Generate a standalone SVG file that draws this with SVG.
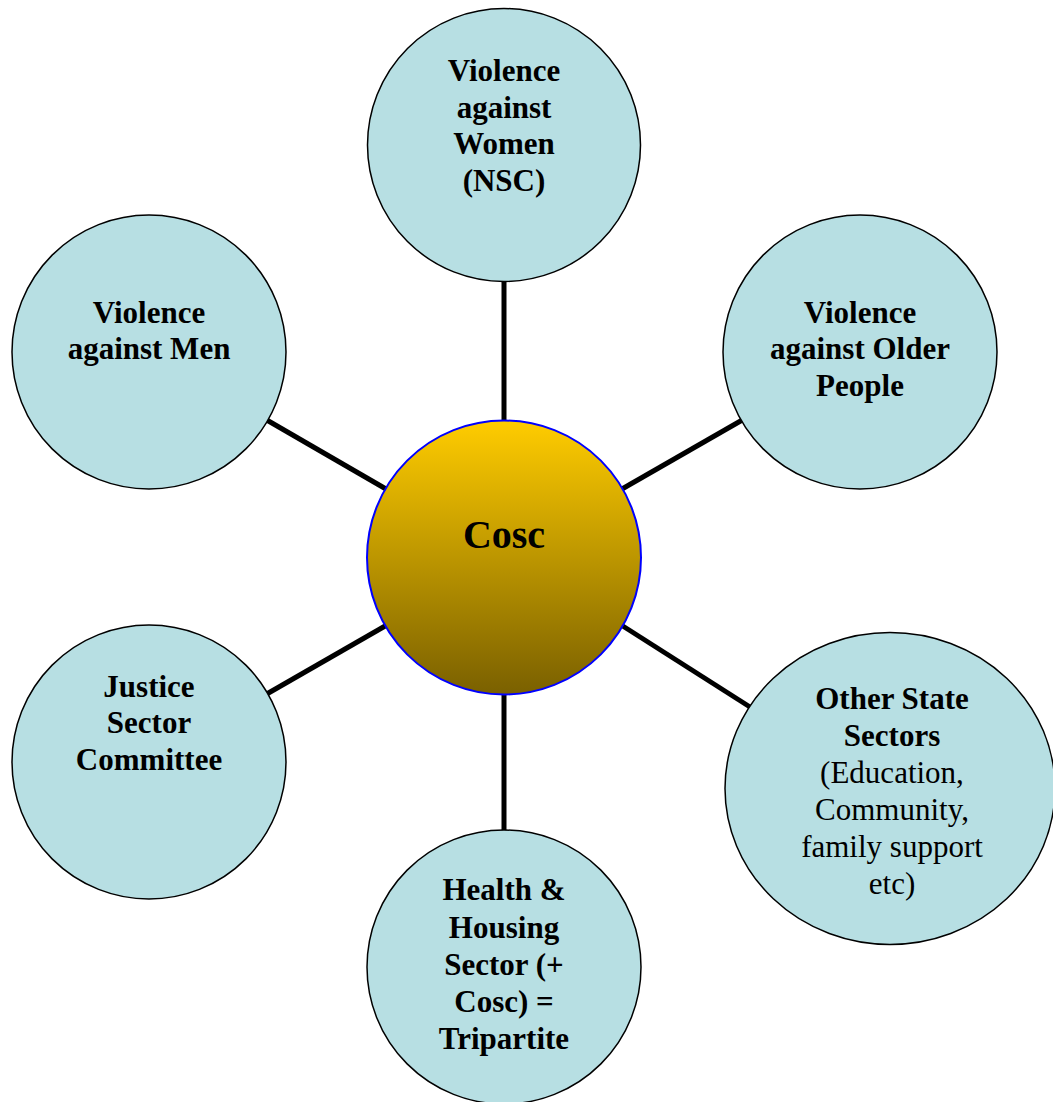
<svg xmlns="http://www.w3.org/2000/svg" width="1053" height="1102" viewBox="0 0 1053 1102">
<defs>
<linearGradient id="gold" x1="0" y1="0" x2="0" y2="1">
<stop offset="0" stop-color="#FFCC00"/>
<stop offset="1" stop-color="#7A6000"/>
</linearGradient>
<style>
.node{fill:#B7DFE3;stroke:#000;stroke-width:1.5}
.hub{fill:url(#gold);stroke:#0000FF;stroke-width:2}
.conn line{stroke:#000;stroke-width:5}
text{font-family:"Liberation Serif","Times New Roman",serif;font-size:31px;fill:#000;text-anchor:middle}
.b{font-weight:bold}
</style>
</defs>
<rect width="1053" height="1102" fill="#fff"/>
<g id="connectors" class="conn">
<line x1="504" y1="280" x2="504" y2="421"/>
<line x1="504" y1="694" x2="504" y2="831"/>
<line x1="267.6" y1="420.5" x2="386" y2="489"/>
<line x1="741.4" y1="420.5" x2="622" y2="489"/>
<line x1="267.6" y1="693.5" x2="386" y2="625.5"/>
<line x1="750" y1="707" x2="622" y2="625.5"/>
</g>
<g id="hub">
<circle class="hub" cx="504" cy="557.5" r="137"/>
<text class="b" x="504" y="548" style="font-size:40px">Cosc</text>
</g>
<g id="vaw">
<circle class="node" cx="504" cy="145" r="136.5"/>
<text class="b" x="504" y="81">Violence</text>
<text class="b" x="504" y="118">against</text>
<text class="b" x="504" y="154">Women</text>
<text class="b" x="504" y="191">(NSC)</text>
</g>
<g id="vam">
<circle class="node" cx="149" cy="352" r="137"/>
<text class="b" x="149" y="323">Violence</text>
<text class="b" x="149" y="359">against Men</text>
</g>
<g id="vaop">
<circle class="node" cx="860" cy="352" r="137"/>
<text class="b" x="860" y="323">Violence</text>
<text class="b" x="860" y="359">against Older</text>
<text class="b" x="860" y="396">People</text>
</g>
<g id="justice">
<circle class="node" cx="149" cy="762" r="137"/>
<text class="b" x="149" y="697">Justice</text>
<text class="b" x="149" y="733">Sector</text>
<text class="b" x="149" y="770">Committee</text>
</g>
<g id="health">
<circle class="node" cx="504" cy="967" r="137"/>
<text class="b" x="504" y="900">Health &amp;</text>
<text class="b" x="504" y="938">Housing</text>
<text class="b" x="504" y="975">Sector (+</text>
<text class="b" x="504" y="1012">Cosc) =</text>
<text class="b" x="504" y="1049">Tripartite</text>
</g>
<g id="other">
<ellipse class="node" cx="890" cy="788.5" rx="165" ry="156"/>
<text class="b" x="892" y="709">Other State</text>
<text class="b" x="892" y="746">Sectors</text>
<text x="892" y="783">(Education,</text>
<text x="892" y="820">Community,</text>
<text x="892" y="857">family support</text>
<text x="892" y="894">etc)</text>
</g>
</svg>
